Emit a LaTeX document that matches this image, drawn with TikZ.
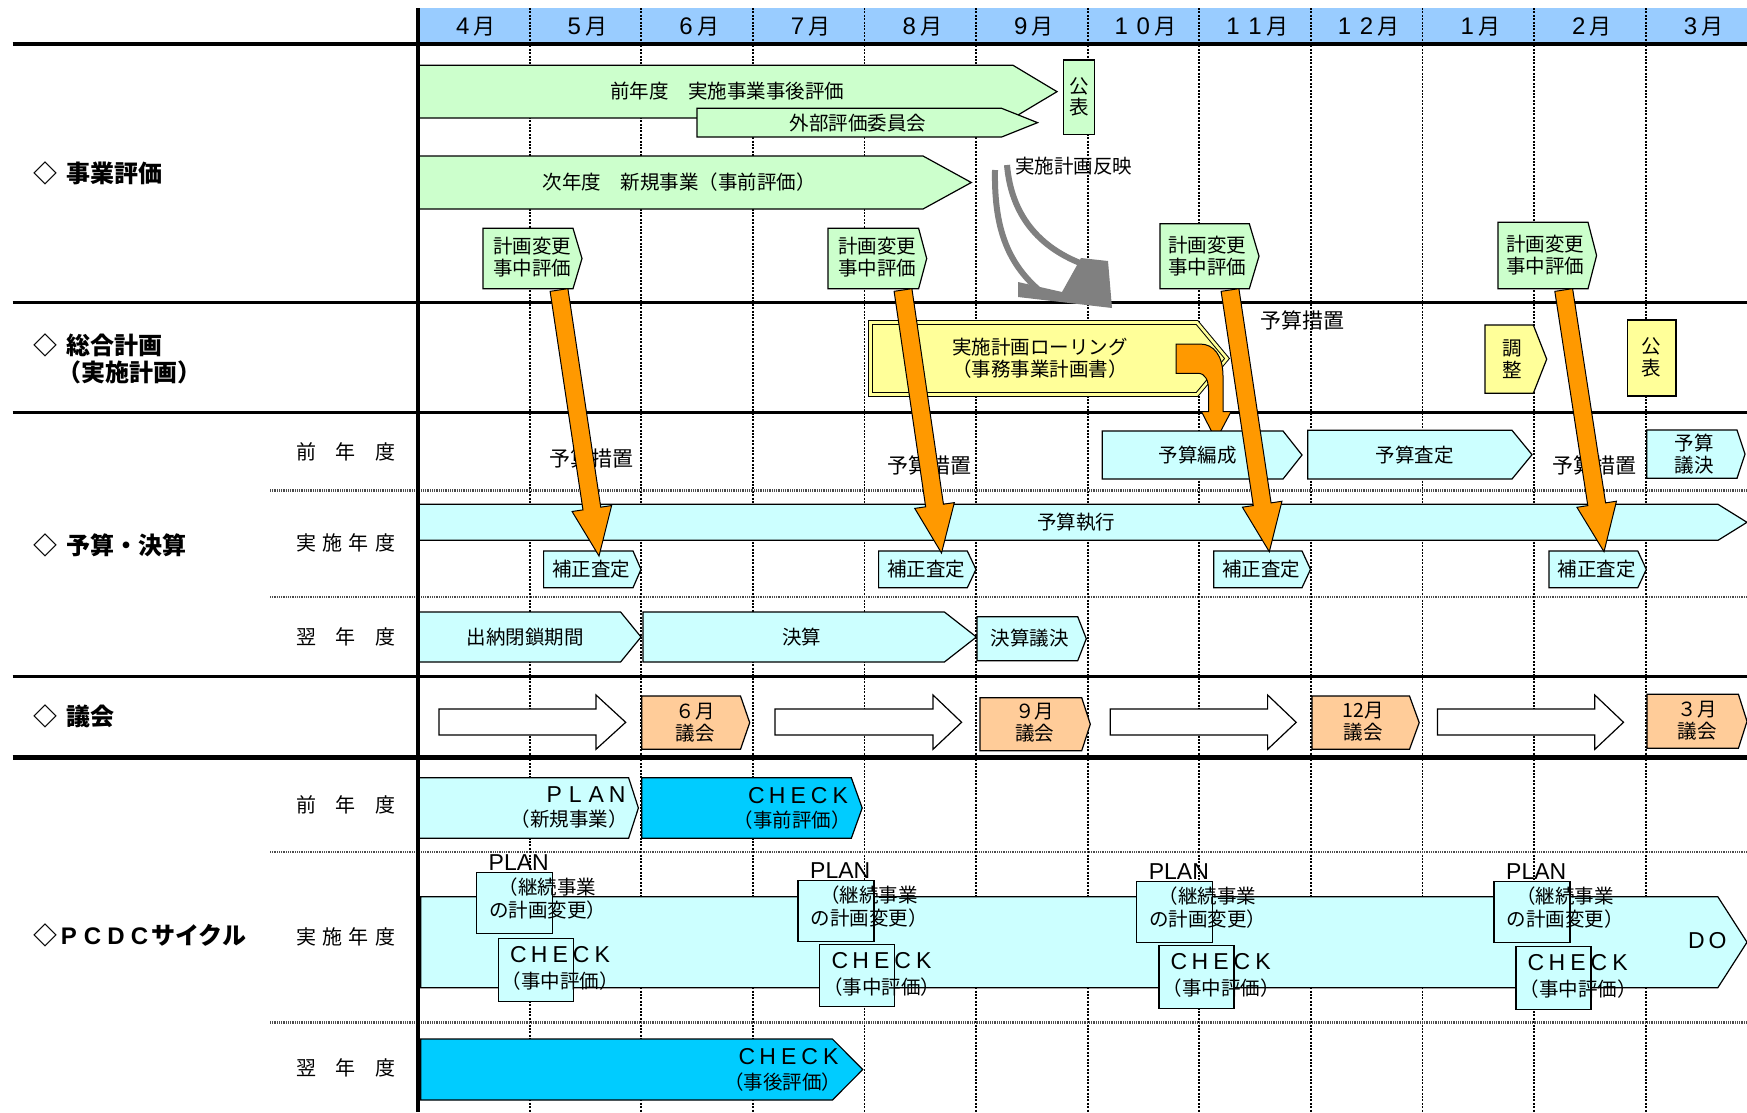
\documentclass[tikz,border=0pt]{standalone}
\usepackage{fontspec}
\setmainfont{Noto Sans CJK JP}
\newfontfamily\lat{Liberation Sans}
\usetikzlibrary{calc}
\definecolor{hdr}{HTML}{99CCFF}
\definecolor{grn}{HTML}{CCFFCC}
\definecolor{cyn}{HTML}{CCFFFF}
\definecolor{dcyn}{HTML}{00CCFF}
\definecolor{ylw}{HTML}{FFFF99}
\definecolor{org}{HTML}{FF9900}
\definecolor{peach}{HTML}{FFCC99}
\definecolor{gry}{HTML}{808080}
% wide Latin letter cell
\newcommand\wl[1]{\makebox[21pt]{{\lat\fontsize{23}{24}\selectfont #1}}}
% wide digit cell for the month header
\newcommand\mdig[1]{\makebox[22pt]{{\lat\fontsize{24}{24}\selectfont #1}}}
% pentagon box: [style]{x1}{ytop}{xcorner}{xtip}{ybottom}
\newcommand\pent[6][]{\draw[box,#1] (#2,#3) -- (#4,#3) -- (#5,{(#3+#6)/2}) -- (#4,#6) -- (#2,#6) -- cycle;}
% white block arrow: {x1}{xhead}{xtip}
\newcommand\warrow[3]{\draw[box,fill=white] (#1,709) -- (#2,709) -- (#2,695) -- (#3,722.3) -- (#2,749.3) -- (#2,735) -- (#1,735) -- cycle;}
% orange block arrow between two named coordinates
\newcommand\oarrow[2]{%
  \path[oarr] let \p1=(#1), \p2=(#2), \p3=($(\p2)-(\p1)$),
    \n1={atan2(\y3,\x3)}, \n2={veclen(\x3,\y3)},
    \n3={\n1+90}, \n4={\n1-90}, \n5={\n2-48pt} in
  ($(\p1)+(\n3:9pt)$) -- ($(\p1)+(\n1:\n5)+(\n3:9pt)$) -- ($(\p1)+(\n1:\n5)+(\n3:20pt)$) -- (\p2)
  -- ($(\p1)+(\n1:\n5)+(\n4:20pt)$) -- ($(\p1)+(\n1:\n5)+(\n4:9pt)$) -- ($(\p1)+(\n4:9pt)$) -- cycle;}
% small PLAN box of the implementation year: {name}{x}{y}
\newcommand\planbox[3]{%
  \draw[box,fill=cyn] (#2,#3) rectangle ++(76,61);
  \node[inner sep=0pt,anchor=base west,font=\lat\fontsize{23}{24}\selectfont] (#1p) at ({#2+12},{#3-2}) {PLAN};
  \node[txt,font=\fontsize{19.5}{23.5}\selectfont] (#1t) at ({#2+71},{#3+26}) {（継続事業\\の計画変更）};}
\newcommand\checkbox[3]{%
  \draw[box,fill=cyn] (#2,#3) rectangle ++(75,62.5);
  \node[txt,font=\fontsize{19.5}{26}\selectfont] (#1) at ({#2+62},{#3+30}) {\wl{C}\wl{H}\wl{E}\wl{C}\wl{K}\\（事中評価）};}
\newcommand\spr[1]{\makebox[99pt][l]{#1}}
\begin{document}
\begin{tikzpicture}[x=1pt,y=-1pt,
  box/.style={draw=black,line width=1.2pt,line join=miter},
  txt/.style={inner sep=0pt,align=center,font=\fontsize{19.5}{22}\selectfont},
  txtb/.style={txt,font=\fontsize{21}{24}\selectfont},
  hd/.style={inner sep=0pt,font=\fontsize{22}{24}\selectfont},
  sec/.style={inner sep=0pt,anchor=west,font=\fontsize{24}{27}\selectfont\bfseries},
  sub/.style={inner sep=0pt,anchor=west,font=\fontsize{20}{24}\selectfont},
  gridl/.style={line width=1.8pt,dash pattern=on 2pt off 1.4pt},
  subrule/.style={line width=2.4pt,black!70,dash pattern=on 0.9pt off 0.9pt},
  oarr/.style={draw=black,line width=1pt,fill=org,line join=miter},
]
\useasboundingbox (0,0) rectangle (1747,1112);
\fill[white] (0,0) rectangle (1747,1112);
% header
\fill[hdr] (418,8) rectangle (1747,44);
\foreach \i/\m in {0/\mdig{4}月,1/\mdig{5}月,2/\mdig{6}月,3/\mdig{7}月,4/\mdig{8}月,5/\mdig{9}月,6/\mdig{1}\mdig{0}月,7/\mdig{1}\mdig{1}月,8/\mdig{1}\mdig{2}月,9/\mdig{1}月,10/\mdig{2}月,11/\mdig{3}月}
  \node[hd] (m\i) at ({418+(\i+0.5)*111.6},26.5) {\m};
% month grid
\foreach \i in {1,...,11}
  \draw[gridl] ({418+\i*111.6},8) -- ({418+\i*111.6},1112);
% section rules
\draw[line width=4pt] (12.6,44.3) -- (1747,44.3);
\draw[line width=2.5pt] (12.6,302.5) -- (1747,302.5);
\draw[line width=2.5pt] (12.6,412.7) -- (1747,412.7);
\draw[line width=2.5pt] (12.6,676.5) -- (1747,676.5);
\draw[line width=4.5pt] (12.6,757.7) -- (1747,757.7);
\foreach \y in {490.5,597,851.7,1022.3}
  \draw[subrule] (270,\y) -- (1747,\y);
% section labels
\node[sec] (L1) at (33,173) {◇\hspace{9pt}事業評価};
\node[sec] (L2) at (33,345) {◇\hspace{9pt}総合計画};
\node[sec] (L2b) at (57,372) {（実施計画）};
\node[sec] (L3) at (33,545) {◇\hspace{9pt}予算・決算};
\node[sec] (L4) at (33,716.7) {◇\hspace{9pt}議会};
\node[sec] (L5) at (33,935) {◇\makebox[23.5pt]{\lat P}\makebox[23.5pt]{\lat C}\makebox[23.5pt]{\lat D}\makebox[23.5pt]{\lat C}サイクル};
\node[sub] (S1) at (296,451.7) {\spr{前\hfill 年\hfill 度}};
\node[sub] (S2) at (296,543) {\spr{実\hfill 施\hfill 年\hfill 度}};
\node[sub] (S3) at (296,636.7) {\spr{翌\hfill 年\hfill 度}};
\node[sub] (S4) at (296,805) {\spr{前\hfill 年\hfill 度}};
\node[sub] (S5) at (296,936.7) {\spr{実\hfill 施\hfill 年\hfill 度}};
\node[sub] (S6) at (296,1068.3) {\spr{翌\hfill 年\hfill 度}};
% ---- 事業評価
\pent[fill=grn]{418}{65.3}{1013}{1057}{118}
\node[txt] (e1) at (727,91.5) {前年度　実施事業事後評価};
\pent[fill=grn]{697}{108.3}{1001.6}{1037.6}{137}
\node[txt] (e2) at (858,122.7) {外部評価委員会};
\draw[box,fill=grn] (1063.4,60) rectangle (1094.3,134.7);
\node[txt,font=\fontsize{19.5}{21}\selectfont] (e3) at (1079,97) {公\\表};
\pent[fill=grn]{418}{156}{923}{971.3}{209}
\node[txt] (e4) at (679,182.5) {次年度　新規事業（事前評価）};
\node[txt,anchor=west] (e5) at (1015,166.5) {実施計画反映};
\pent[fill=grn]{483}{228.3}{573}{582}{288.7}
\node[txt] (k1) at (532,257.5) {計画変更\\事中評価};
\pent[fill=grn]{828}{228.3}{918.6}{926.7}{288.7}
\node[txt] (k2) at (877,257.5) {計画変更\\事中評価};
\pent[fill=grn]{1160}{223.7}{1249.3}{1259}{288.7}
\node[txt] (k3) at (1207,256) {計画変更\\事中評価};
\pent[fill=grn]{1498}{222.3}{1588}{1596.6}{288.7}
\node[txt] (k4) at (1545,255) {計画変更\\事中評価};
% ---- 総合計画
\draw[draw=black,line width=1pt,fill=ylw,double=ylw,double distance=2.6pt,line join=miter]
  (870.5,322.5) -- (1197,322.5) -- (1227,358.5) -- (1197,394.5) -- (870.5,394.5) -- cycle;
\node[txt] (r1) at (1040,358) {実施計画ローリング\\（事務事業計画書）};
\draw[oarr] (1176,344) -- (1200,344) .. controls (1214,344) and (1223,356) .. (1223,376)
  -- (1223,411.7) -- (1231,411.7) -- (1216,440) -- (1201.5,411.7) -- (1208.5,411.7) -- (1208.5,390)
  .. controls (1208.5,380) and (1205,373.3) .. (1198,373.3) -- (1176,373.3) -- cycle;
\node[txtb] (y2) at (1302,320) {予算措置};
\pent[fill=ylw]{1485}{325}{1533.3}{1546.7}{393.3}
\node[txt] (r2) at (1512,359) {調\\整};
\draw[box,fill=ylw] (1627.7,320) rectangle (1676,396);
\node[txt] (r3) at (1651.7,357) {公\\表};
% ---- 予算・決算
\node[txtb] (y1) at (591,458) {予算措置};
\node[txtb] (y3) at (929.5,465.7) {予算措置};
\node[txtb] (y4) at (1594,465) {予算措置};
\pent[fill=cyn]{1102.3}{431}{1283}{1302}{479}
\node[txt] (f1) at (1197.5,455) {予算編成};
\pent[fill=cyn]{1307.7}{430.3}{1512}{1532}{479}
\node[txt] (f2) at (1414.6,455) {予算査定};
\pent[fill=cyn]{1646.7}{430}{1737}{1745}{478.3}
\node[txt] (f3) at (1694,454) {予算\\議決};
\pent[fill=cyn]{418}{504.3}{1718}{1747}{540.3}
\node[txt] (f4) at (1076,522) {予算執行};
\pent[fill=cyn]{543.6}{551}{633}{641}{587.7}
\node[txt] (h1) at (591,569.3) {補正査定};
\pent[fill=cyn]{878.6}{551}{967.3}{976}{587.7}
\node[txt] (h2) at (926,569.3) {補正査定};
\pent[fill=cyn]{1213.8}{551}{1302}{1310.5}{587.7}
\node[txt] (h3) at (1261,569.3) {補正査定};
\pent[fill=cyn]{1549}{551}{1637.8}{1646.3}{587.7}
\node[txt] (h4) at (1596.5,569.3) {補正査定};
\pent[fill=cyn]{418}{612}{620.6}{641}{662}
\node[txt] (d1) at (525,637.5) {出納閉鎖期間};
\pent[fill=cyn]{643}{612}{944.4}{976.4}{662}
\node[txt] (d2) at (801.5,637.5) {決算};
\pent[fill=cyn]{977}{616.7}{1077.7}{1086.3}{660.7}
\node[txt] (d3) at (1029.6,638.3) {決算議決};
% ---- 議会
\warrow{439}{596}{625.7}
\warrow{775}{933}{961.6}
\warrow{1110.3}{1267.6}{1296.2}
\warrow{1437.5}{1594.8}{1623.5}
\pent[fill=peach]{641.8}{696}{740.5}{749.7}{749.3}
\node[txt] (g1) at (695,722.5) {６月\\議会};
\pent[fill=peach]{979.9}{697.7}{1081.7}{1090.3}{750.7}
\node[txt] (g2) at (1034.5,723) {９月\\議会};
\pent[fill=peach]{1312}{696}{1409.5}{1419.2}{749.3}
\node[txt] (g3) at (1363.4,721.7) {12月\\議会};
\pent[fill=peach]{1647}{694.3}{1738.4}{1747}{748.3}
\node[txt] (g4) at (1697,720.5) {３月\\議会};
% ---- PCDC
\pent[fill=cyn]{419}{777.7}{628.6}{638.4}{838.3}
\node[txt,align=right,anchor=east,font=\fontsize{19.5}{24}\selectfont] (p1) at (628,808) {\wl{P}\wl{L}\wl{A}\wl{N}\\（新規事業）};
\pent[fill=dcyn]{641.8}{777.7}{851.3}{862.2}{838.3}
\node[txt,align=right,anchor=east,font=\fontsize{19.5}{24}\selectfont] (p2) at (851,808) {\wl{C}\wl{H}\wl{E}\wl{C}\wl{K}\\（事前評価）};
\pent[fill=cyn]{420.8}{896.7}{1717.8}{1747}{987.7}
\node[txt] (do) at (1707,941) {\wl{D}\wl{O}};
\planbox{pa}{476.5}{872.7}
\checkbox{ca}{498.3}{938.7}
\planbox{pb}{798}{880.7}
\checkbox{cb}{819.8}{944.3}
\planbox{pc}{1136.6}{881.7}
\checkbox{cc}{1159}{945.7}
\planbox{pd}{1494}{881.7}
\checkbox{cd}{1516}{946.7}
\pent[fill=dcyn]{420.8}{1039}{832.4}{862.8}{1100}
\node[txt,align=right,anchor=east,font=\fontsize{19.5}{25}\selectfont] (p3) at (841.5,1069.5) {\wl{C}\wl{H}\wl{E}\wl{C}\wl{K}\\（事後評価）};
% ---- gray curved arrow (実施計画反映)
\draw[gry,line width=6pt] (995,170) .. controls (994,225) and (1006,262) .. (1040,291);
\draw[gry,line width=6pt] (1007,165) .. controls (1011,212) and (1036,248) .. (1088,266);
\fill[gry] (1018,282) -- (1062,292) -- (1081,258) -- (1108,261) -- (1112,308) -- (1018,297) -- cycle;
% ---- orange arrows
\coordinate (a1s) at (559,290);   \coordinate (a1e) at (599,556);
\coordinate (a2s) at (903,290);   \coordinate (a2e) at (941.5,553);
\coordinate (a3s) at (1230,290);  \coordinate (a3e) at (1269.3,551.7);
\coordinate (a4s) at (1563.7,290);\coordinate (a4e) at (1604,551.7);
\oarrow{a1s}{a1e}
\oarrow{a2s}{a2e}
\oarrow{a3s}{a3e}
\oarrow{a4s}{a4e}
% main vertical rule
\draw[line width=4pt] (418,8) -- (418,1112);
\end{tikzpicture}
\end{document}
